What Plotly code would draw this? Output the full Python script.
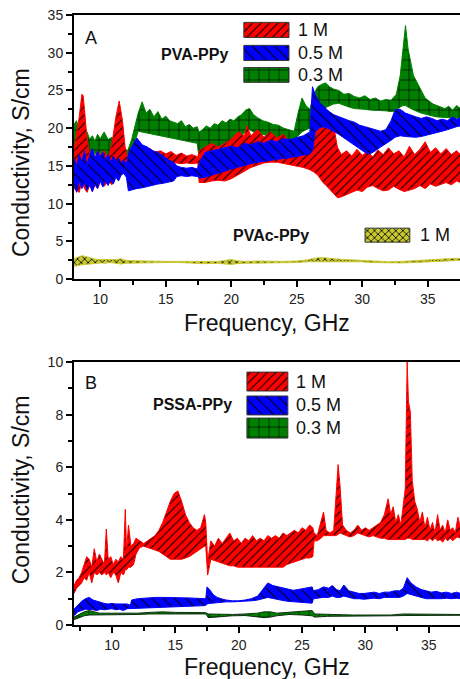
import plotly.graph_objects as go

# ---------------- Panel A : PVA-PPy / PVAc-PPy (S/cm vs GHz) ----------------
A_FREQ_1M = [8.0, 8.2, 8.4, 8.6, 8.7, 8.8, 9.0, 9.2, 9.4, 9.6,
             9.8, 10.0, 10.3, 10.6, 10.9, 11.2, 11.45, 11.7, 11.9, 12.1,
             12.4, 12.7, 13.0, 13.4, 13.8, 14.2, 14.6, 15.0, 15.4, 15.8,
             16.2, 16.6, 17.0, 17.45, 17.55, 18.0, 18.5, 19.0, 19.5, 20.0,
             20.5, 21.0, 21.2, 21.5, 22.0, 22.5, 23.0, 23.5, 24.0, 24.5,
             25.0, 25.5, 26.0, 26.3, 26.6, 27.0, 27.3, 27.6, 27.9, 28.1,
             28.4, 28.8, 29.2, 29.6, 30.0, 30.4, 30.8, 31.2, 31.6, 32.0,
             32.4, 32.8, 33.2, 33.6, 34.0, 34.4, 34.8, 35.2, 35.6, 36.0,
             36.4, 36.8, 37.2, 37.5]
A_HI_1M = [17.0, 19.0, 21.5, 24.5, 24.3, 22.5, 18.5, 16.5, 17.0, 16.0,
           17.0, 16.5, 17.0, 16.0, 18.0, 21.5, 23.6, 21.0, 17.5, 16.0,
           17.0, 16.8, 17.2, 16.8, 17.3, 16.8, 17.0, 16.6, 16.9, 16.4,
           16.7, 16.3, 16.5, 16.2, 17.0, 17.5, 18.0, 17.5, 18.0, 18.5,
           19.5, 19.0, 20.3, 19.0, 19.8, 18.8, 19.5, 18.7, 19.2, 18.0,
           17.5, 17.0, 17.5, 19.0, 20.5, 20.8, 21.5, 20.5, 19.5, 17.5,
           16.5, 17.0, 16.3, 17.2, 16.4, 16.9, 16.2, 17.1, 16.5, 17.4,
           16.6, 17.0, 16.2, 17.6, 16.5, 17.2, 18.2, 16.8, 17.4, 16.6,
           17.3, 16.5, 17.0, 16.5]
A_LO_1M = [12.0, 11.8, 11.5, 13.0, 12.5, 12.0, 11.5, 12.5, 11.6, 12.5,
           12.0, 13.0, 12.3, 13.0, 12.5, 14.0, 15.0, 15.5, 15.0, 15.0,
           15.0, 15.0, 15.2, 15.2, 15.3, 15.3, 15.3, 15.4, 15.4, 15.4,
           15.3, 15.4, 15.3, 15.4, 12.8, 12.8, 13.0, 13.1, 13.0, 13.3,
           13.8, 14.3, 14.5, 14.8, 15.1, 15.4, 15.5, 15.5, 15.4, 15.2,
           15.0, 14.8, 14.5, 14.2, 13.8, 12.8, 12.3, 11.8, 11.2, 10.8,
           10.9, 11.2, 11.5, 11.8, 11.6, 12.2, 12.4, 12.0, 11.7, 11.8,
           12.3, 11.9, 11.6, 11.8, 12.0, 12.4, 12.0, 12.6, 12.3, 12.6,
           12.8, 12.5, 13.0, 12.8]

A_FREQ_05M = [8.0, 8.2, 8.4, 8.6, 8.8, 9.0, 9.2, 9.4, 9.6, 9.8,
              10.0, 10.2, 10.4, 10.6, 10.8, 11.0, 11.2, 11.4, 11.6, 11.8,
              12.0, 12.15, 12.4, 12.8, 13.2, 13.6, 14.0, 14.4, 14.8, 15.2,
              15.6, 15.85, 16.2, 16.6, 17.0, 17.4, 17.6, 18.0, 18.5, 19.0,
              19.5, 20.0, 20.5, 21.0, 21.5, 22.0, 22.5, 23.0, 23.5, 24.0,
              24.5, 25.0, 25.5, 26.0, 26.2, 26.4, 26.7, 27.0, 27.4, 27.8,
              28.2, 28.6, 29.0, 29.4, 29.8, 30.2, 30.6, 31.0, 31.4, 31.8,
              32.2, 32.5, 32.9, 33.3, 33.7, 34.1, 34.5, 34.9, 35.3, 35.7,
              36.1, 36.5, 36.9, 37.2, 37.5]
A_HI_05M = [16.0, 15.0, 16.5, 15.5, 17.0, 15.0, 16.5, 17.3, 16.0, 17.0,
            16.2, 16.8, 15.8, 16.5, 15.5, 16.3, 15.6, 16.0, 15.4, 15.8,
            15.2, 16.5, 17.5, 18.7, 17.8, 17.5, 17.0, 16.8, 16.3, 15.8,
            15.5, 15.0, 14.8, 14.7, 14.8, 14.6, 15.5, 16.8, 17.0, 17.2,
            17.3, 17.6, 17.4, 18.0, 17.8, 18.2, 18.0, 18.4, 18.2, 18.6,
            18.5, 18.8, 19.0, 19.5, 25.5, 24.5, 23.5, 23.0, 22.3, 21.8,
            21.5, 21.2, 21.0, 20.8, 20.4, 20.2, 20.0, 19.8, 19.6, 19.8,
            21.0, 22.4, 22.5, 22.0, 21.7, 21.5, 21.3, 21.5, 21.3, 21.0,
            21.2, 21.0, 21.5, 21.2, 21.4]
A_LO_05M = [12.5, 11.5, 13.0, 12.0, 12.8, 11.8, 12.5, 11.6, 12.6, 12.0,
            13.0, 12.2, 13.0, 12.4, 13.2, 12.6, 13.5, 13.0, 13.8, 14.0,
            13.5, 11.7, 11.8, 12.0, 12.1, 12.3, 12.4, 12.6, 12.7, 12.8,
            13.0, 13.6, 13.7, 13.6, 13.7, 13.6, 13.4, 13.5, 13.8, 14.0,
            14.3, 14.6, 14.8, 15.1, 15.3, 15.5, 15.6, 15.8, 15.9, 16.0,
            16.1, 16.2, 16.4, 16.6, 17.0, 19.5, 20.0, 20.2, 20.0, 19.6,
            19.2, 18.8, 18.2, 17.7, 17.3, 16.8, 16.6, 17.0, 17.5, 18.0,
            18.4, 18.8, 19.0, 18.9, 18.8, 18.8, 18.9, 19.0, 19.2, 19.4,
            19.6, 19.8, 20.0, 20.2, 20.3]

A_FREQ_03M = [8.0, 8.2, 8.4, 8.6, 8.8, 9.0, 9.2, 9.4, 9.6, 9.8,
              10.0, 10.3, 10.6, 10.9, 11.2, 11.5, 11.8, 12.1, 12.4, 12.7,
              12.9, 13.2, 13.5, 13.8, 14.1, 14.4, 14.7, 15.0, 15.3, 15.6,
              15.9, 16.2, 16.5, 16.8, 17.1, 17.4, 17.55, 17.8, 18.1, 18.4,
              18.7, 19.0, 19.3, 19.6, 19.9, 20.2, 20.5, 20.8, 21.1, 21.4,
              21.7, 22.0, 22.4, 22.8, 23.2, 23.6, 24.0, 24.4, 24.8, 25.1,
              25.4, 25.7, 26.0, 26.3, 26.6, 26.9, 27.2, 27.5, 27.8, 28.2,
              28.6, 29.0, 29.4, 29.8, 30.2, 30.6, 31.0, 31.4, 31.8, 32.2,
              32.6, 32.9, 33.1, 33.3, 33.5, 33.7, 33.9, 34.2, 34.5, 34.8,
              35.1, 35.4, 35.7, 36.0, 36.3, 36.6, 36.9, 37.2, 37.5]
A_HI_03M = [20.5, 21.0, 19.5, 20.0, 19.0, 19.5, 18.5, 19.0, 18.3, 19.2,
            18.6, 19.5, 18.5, 18.8, 18.2, 18.5, 17.5, 17.0, 18.5, 20.5,
            22.0, 23.5, 22.0, 22.5, 21.5, 22.2, 21.2, 21.6, 21.0, 20.8,
            20.6, 21.0, 20.2, 20.5, 20.0, 20.2, 19.5, 19.8, 20.3, 20.0,
            20.6, 20.4, 21.0, 20.7, 21.2, 21.0, 21.5, 21.8, 22.4, 22.6,
            21.8, 21.4, 21.0, 20.8, 20.5, 20.4, 20.0, 19.8, 19.6, 22.0,
            24.0, 23.0, 22.5, 24.5, 25.5, 25.8, 26.0, 25.5, 25.2, 25.0,
            24.5, 24.6, 24.2, 24.0, 24.3, 23.8, 24.0, 23.6, 23.8, 23.7,
            24.5, 27.0, 30.0, 33.6, 30.5, 28.5, 27.0, 26.0, 25.0, 24.0,
            23.6, 23.2, 23.0, 22.8, 22.6, 22.9, 22.4, 23.0, 22.6]
A_LO_03M = [15.5, 17.0, 16.5, 17.5, 16.8, 17.2, 16.4, 16.9, 16.5, 17.0,
            16.6, 16.8, 16.2, 16.5, 16.0, 15.5, 14.0, 15.5, 16.5, 18.5,
            19.6, 19.4, 19.3, 19.2, 19.1, 19.0, 18.9, 18.8, 18.7, 18.6,
            18.5, 18.4, 18.3, 18.2, 18.1, 18.0, 16.0, 16.5, 16.8, 17.0,
            17.2, 17.3, 17.5, 17.7, 17.9, 18.2, 18.5, 19.0, 19.6, 19.8,
            19.5, 19.3, 19.2, 19.0, 18.9, 18.8, 18.6, 18.4, 18.2, 19.0,
            19.5, 19.8, 20.0, 21.0, 22.0, 22.5, 22.8, 23.0, 23.2, 23.3,
            23.0, 22.8, 22.6, 22.5, 22.5, 22.4, 22.4, 22.3, 22.3, 22.2,
            22.3, 22.8, 23.0, 23.0, 22.8, 22.6, 22.4, 22.2, 22.0, 21.8,
            21.7, 21.6, 21.5, 21.5, 21.4, 21.4, 21.3, 21.3, 21.4]

A_FREQ_PVAC = [8.0, 8.3, 8.6, 8.9, 9.2, 9.5, 9.8, 10.1, 10.4, 10.7,
               11.0, 11.3, 11.6, 11.9, 12.3, 13.0, 14.0, 15.0, 16.0, 17.0,
               18.0, 19.0, 19.6, 20.0, 20.4, 21.0, 22.0, 23.0, 24.0, 25.0,
               25.8, 26.3, 26.8, 27.3, 27.8, 28.5, 29.3, 30.0, 30.5, 31.0,
               32.0, 33.0, 34.0, 34.5, 35.0, 35.5, 36.0, 36.5, 37.0, 37.5]
A_HI_PVAC = [2.7, 2.9, 3.1, 3.0, 2.8, 2.7, 2.6, 2.6, 2.5, 2.6,
             2.5, 2.6, 2.7, 2.5, 2.45, 2.4, 2.4, 2.35, 2.35, 2.3,
             2.35, 2.35, 2.5, 2.6, 2.45, 2.35, 2.4, 2.35, 2.35, 2.4,
             2.55, 2.75, 2.85, 2.8, 2.7, 2.6, 2.55, 2.5, 2.45, 2.4,
             2.3, 2.35, 2.45, 2.55, 2.6, 2.65, 2.7, 2.7, 2.75, 2.75]
A_LO_PVAC = [1.7, 1.8, 1.9, 2.0, 2.0, 2.1, 2.1, 2.15, 2.1, 2.2,
             2.15, 2.1, 2.0, 2.1, 2.2, 2.2, 2.2, 2.2, 2.2, 2.15,
             2.05, 2.1, 2.0, 1.95, 2.05, 2.1, 2.15, 2.15, 2.2, 2.2,
             2.3, 2.35, 2.35, 2.35, 2.3, 2.3, 2.3, 2.3, 2.2, 2.2,
             2.15, 2.15, 2.2, 2.25, 2.25, 2.3, 2.35, 2.4, 2.45, 2.5]

# ---------------- Panel B : PSSA-PPy ----------------
B_FREQ_1M = [7.0, 7.2, 7.4, 7.6, 7.8, 8.0, 8.2, 8.4, 8.6, 8.8,
             9.0, 9.2, 9.4, 9.55, 9.7, 9.9, 10.1, 10.3, 10.5, 10.7,
             10.9, 11.05, 11.15, 11.3, 11.5, 11.7, 11.9, 12.2, 12.5, 12.8,
             13.1, 13.4, 13.7, 14.0, 14.3, 14.6, 14.9, 15.2, 15.5, 15.8,
             16.1, 16.4, 16.7, 17.0, 17.3, 17.4, 17.55, 17.8, 18.1, 18.4,
             18.7, 19.0, 19.3, 19.6, 19.9, 20.2, 20.5, 20.8, 21.1, 21.4,
             21.7, 22.0, 22.3, 22.6, 22.9, 23.2, 23.5, 23.8, 24.1, 24.4,
             24.7, 25.0, 25.3, 25.6, 25.85, 25.95, 26.2, 26.5, 26.7, 26.9,
             27.2, 27.5, 27.7, 27.85, 28.0, 28.2, 28.5, 28.8, 29.1, 29.4,
             29.7, 30.0, 30.3, 30.6, 30.9, 31.2, 31.5, 31.8, 32.0, 32.2,
             32.4, 32.6, 32.8, 33.0, 33.15, 33.3, 33.4, 33.55, 33.7, 33.9,
             34.1, 34.3, 34.5, 34.7, 34.9, 35.1, 35.3, 35.5, 35.7, 35.9,
             36.1, 36.3, 36.5, 36.7, 36.9, 37.1, 37.3, 37.5]
B_HI_1M = [1.5, 1.7, 1.8, 2.0, 2.3, 2.6, 2.5, 2.2, 2.9, 2.4,
           2.7, 2.5, 2.3, 3.65, 2.5, 2.6, 2.3, 2.5, 2.4, 2.6,
           2.5, 4.4, 2.8, 3.8, 3.0, 3.1, 3.3, 3.2, 3.1, 3.2,
           3.3, 3.4, 3.6, 3.9, 4.3, 4.7, 5.0, 5.1, 4.7, 4.2,
           3.9, 3.7, 3.6, 3.7, 4.2, 3.9, 2.4, 3.2, 3.0, 3.3,
           3.1, 3.3, 3.5, 3.2, 3.3, 3.1, 3.3, 3.2, 3.4, 3.2,
           3.3, 3.2, 3.4, 3.3, 3.4, 3.3, 3.5, 3.4, 3.5, 3.6,
           3.5, 3.7, 3.6, 3.8, 3.7, 3.5, 3.4, 4.0, 4.3, 3.6,
           3.5, 3.6, 5.0, 6.1, 5.3, 3.8, 3.6, 3.5, 3.6, 3.8,
           3.6, 3.7, 3.6, 3.7, 3.8, 3.9, 4.2, 4.8, 4.2, 4.5,
           3.9, 4.2, 3.8, 4.7, 5.2, 10.0, 8.5, 8.1, 5.5, 4.7,
           4.4, 3.9, 4.3, 3.7, 4.1, 3.6, 3.9, 3.5, 4.2, 3.6,
           3.8, 3.5, 4.0, 3.6, 3.7, 3.5, 4.1, 3.7]
B_LO_1M = [1.2, 1.4, 1.5, 1.6, 1.8, 1.7, 2.0, 1.6, 2.0, 1.9,
           2.0, 1.9, 2.0, 1.9, 2.0, 1.8, 2.0, 1.9, 1.6, 2.0,
           1.9, 2.1, 2.1, 2.2, 2.2, 2.3, 2.7, 2.95, 3.0, 2.95,
           2.9, 2.85, 2.8, 2.7, 2.6, 2.5, 2.5, 2.5, 2.5, 2.55,
           2.6, 2.7, 2.8, 2.9, 3.0, 3.0, 1.9, 2.5, 2.45, 2.4,
           2.35, 2.3, 2.25, 2.25, 2.2, 2.2, 2.2, 2.2, 2.2, 2.2,
           2.2, 2.2, 2.2, 2.2, 2.2, 2.2, 2.2, 2.3, 2.35, 2.4,
           2.45, 2.5, 2.55, 2.55, 2.6, 3.2, 3.2, 3.3, 3.4, 3.4,
           3.4, 3.4, 3.4, 3.45, 3.5, 3.45, 3.4, 3.35, 3.4, 3.5,
           3.45, 3.4, 3.35, 3.4, 3.35, 3.3, 3.3, 3.25, 3.25, 3.25,
           3.25, 3.25, 3.25, 3.25, 3.25, 3.3, 3.3, 3.3, 3.25, 3.25,
           3.25, 3.25, 3.25, 3.25, 3.2, 3.3, 3.2, 3.3, 3.2, 3.25,
           3.15, 3.3, 3.2, 3.3, 3.2, 3.3, 3.35, 3.3]

B_FREQ_05M = [7.0, 7.3, 7.6, 7.9, 8.2, 8.5, 8.8, 9.1, 9.4, 9.7,
              10.0, 10.3, 10.6, 10.9, 11.2, 11.45, 11.55, 12.0, 12.5, 13.0,
              13.5, 14.0, 14.5, 15.0, 15.5, 16.0, 16.5, 17.0, 17.4, 17.5,
              17.7, 18.0, 18.3, 18.6, 19.0, 19.5, 20.0, 20.5, 21.0, 21.5,
              21.9, 22.3, 22.7, 23.1, 23.5, 23.9, 24.3, 24.7, 25.1, 25.5,
              25.8, 25.9, 26.3, 26.7, 27.1, 27.4, 27.7, 28.0, 28.3, 28.7,
              29.1, 29.5, 29.9, 30.3, 30.7, 31.1, 31.5, 31.9, 32.3, 32.7,
              33.0, 33.3, 33.6, 34.0, 34.4, 34.8, 35.2, 35.6, 36.0, 36.4,
              36.8, 37.2, 37.5]
B_HI_05M = [0.6, 0.75, 0.9, 1.0, 1.05, 0.95, 0.9, 0.85, 0.82, 0.8,
            0.82, 0.8, 0.8, 0.78, 0.8, 0.75, 0.95, 1.0, 1.02, 1.04,
            1.05, 1.05, 1.05, 1.04, 1.03, 1.03, 1.02, 1.02, 1.0, 1.45,
            1.35, 1.15, 1.05, 1.0, 0.95, 0.92, 0.92, 0.95, 1.0, 1.1,
            1.35, 1.6, 1.5, 1.45, 1.4, 1.35, 1.32, 1.35, 1.38, 1.4,
            1.45, 1.3, 1.35, 1.45, 1.4, 1.5, 1.35, 1.3, 1.52, 1.3,
            1.25, 1.2, 1.2, 1.22, 1.25, 1.2, 1.25, 1.25, 1.3, 1.3,
            1.4, 1.8, 1.6, 1.45, 1.35, 1.3, 1.25, 1.28, 1.22, 1.25,
            1.2, 1.25, 1.2]
B_LO_05M = [0.35, 0.5, 0.55, 0.6, 0.6, 0.58, 0.55, 0.6, 0.58, 0.6,
            0.62, 0.58, 0.6, 0.55, 0.62, 0.6, 0.6, 0.62, 0.64, 0.65,
            0.66, 0.67, 0.68, 0.69, 0.7, 0.71, 0.72, 0.73, 0.74, 0.8,
            0.82, 0.85, 0.86, 0.87, 0.88, 0.88, 0.88, 0.9, 0.92, 0.95,
            1.0, 1.05, 1.0, 0.97, 0.93, 0.9, 0.88, 0.86, 0.85, 0.84,
            0.83, 1.0, 1.02, 1.05, 1.05, 1.1, 1.05, 1.05, 1.1, 1.05,
            1.0, 1.0, 0.98, 1.0, 1.02, 1.0, 1.05, 1.05, 1.05, 1.05,
            1.1, 1.2, 1.15, 1.1, 1.05, 1.0, 1.0, 1.0, 1.0, 1.02,
            1.0, 1.02, 1.0]

B_FREQ_03M = [7.0, 7.4, 7.8, 8.2, 8.6, 9.0, 10.0, 11.0, 12.0, 13.0,
              14.0, 15.0, 16.0, 17.0, 17.4, 17.6, 18.5, 19.5, 20.5, 21.5,
              22.0, 22.5, 23.0, 24.0, 25.0, 25.8, 26.0, 27.0, 28.0, 29.0,
              30.0, 31.0, 32.0, 33.0, 34.0, 35.0, 36.0, 37.0, 37.5]
B_HI_03M = [0.3, 0.4, 0.5, 0.55, 0.5, 0.45, 0.45, 0.45, 0.45, 0.48,
            0.5, 0.48, 0.47, 0.47, 0.47, 0.42, 0.4, 0.4, 0.42, 0.45,
            0.5, 0.5, 0.45, 0.48, 0.5, 0.55, 0.42, 0.4, 0.4, 0.38,
            0.38, 0.38, 0.38, 0.42, 0.42, 0.4, 0.4, 0.4, 0.4]
B_LO_03M = [0.2, 0.28, 0.35, 0.38, 0.38, 0.38, 0.4, 0.4, 0.4, 0.42,
            0.43, 0.42, 0.42, 0.42, 0.42, 0.28, 0.32, 0.35, 0.36, 0.3,
            0.28, 0.3, 0.35, 0.4, 0.38, 0.35, 0.3, 0.33, 0.35, 0.35,
            0.34, 0.35, 0.35, 0.36, 0.38, 0.37, 0.37, 0.37, 0.37]

LEGEND_LABELS = ["1 M", "0.5 M", "0.3 M"]

for a, b, c in [(A_FREQ_1M, A_HI_1M, A_LO_1M), (A_FREQ_05M, A_HI_05M, A_LO_05M),
                (A_FREQ_03M, A_HI_03M, A_LO_03M), (A_FREQ_PVAC, A_HI_PVAC, A_LO_PVAC),
                (B_FREQ_1M, B_HI_1M, B_LO_1M), (B_FREQ_05M, B_HI_05M, B_LO_05M),
                (B_FREQ_03M, B_HI_03M, B_LO_03M)]:
    assert len(a) == len(b) == len(c), (len(a), len(b), len(c))

# ---------------- styles ----------------
RED, BLUE, GREEN, YELLOW = "#ff0000", "#0000ff", "#008000", "#c8c832"
PAT = {
    "red": dict(shape="/", size=6, solidity=0.18),
    "blue": dict(shape="\\", size=8, solidity=0.13),
    "green": dict(shape="+", size=10, solidity=0.12),
    "yellow": dict(shape="x", size=5, solidity=0.3),
}
FONT = "Arial, Liberation Sans, sans-serif"


def band(x, hi, lo, color, pat, xa, ya, line_color=None):
    return go.Scatter(
        x=list(x) + list(x)[::-1], y=list(hi) + list(lo)[::-1],
        mode="lines", fill="toself", fillcolor=color,
        fillpattern=dict(fgcolor="black", bgcolor=color, fillmode="replace", **pat),
        line=dict(color=line_color or color, width=1),
        xaxis=xa, yaxis=ya, hoverinfo="skip", showlegend=False)


def swatch(x0, x1, y0, y1, color, pat, xa, ya):
    return go.Scatter(
        x=[x0, x1, x1, x0, x0], y=[y0, y0, y1, y1, y0],
        mode="lines", fill="toself", fillcolor=color,
        fillpattern=dict(fgcolor="black", bgcolor=color, fillmode="replace", **pat),
        line=dict(color="#333", width=1),
        xaxis=xa, yaxis=ya, hoverinfo="skip", showlegend=False)


fig = go.Figure()
# Panel A bands
fig.add_trace(band(A_FREQ_03M, A_HI_03M, A_LO_03M, GREEN, PAT["green"], "x", "y"))
fig.add_trace(band(A_FREQ_1M, A_HI_1M, A_LO_1M, RED, PAT["red"], "x", "y"))
fig.add_trace(band(A_FREQ_05M, A_HI_05M, A_LO_05M, BLUE, PAT["blue"], "x", "y"))
fig.add_trace(band(A_FREQ_PVAC, A_HI_PVAC, A_LO_PVAC, YELLOW, PAT["yellow"], "x", "y"))
# Panel B bands
fig.add_trace(band(B_FREQ_1M, B_HI_1M, B_LO_1M, RED, PAT["red"], "x2", "y2"))
fig.add_trace(band(B_FREQ_05M, B_HI_05M, B_LO_05M, BLUE, PAT["blue"], "x2", "y2"))
fig.add_trace(band(B_FREQ_03M, B_HI_03M, B_LO_03M, GREEN, PAT["green"], "x2", "y2", line_color="#103010"))

# legend swatches (layout positions in panel-fraction units)
A_ROWS = [(0.915, 0.972), (0.828, 0.885), (0.745, 0.801)]
B_ROWS = [(0.890, 0.962), (0.799, 0.871), (0.711, 0.787)]
cols = [(RED, PAT["red"]), (BLUE, PAT["blue"]), (GREEN, PAT["green"])]
for (y0, y1), (c, p) in zip(A_ROWS, cols):
    fig.add_trace(swatch(0.440, 0.557, y0, y1, c, p, "x3", "y3"))
fig.add_trace(swatch(0.754, 0.870, 0.140, 0.193, YELLOW, PAT["yellow"], "x3", "y3"))
for (y0, y1), (c, p) in zip(B_ROWS, cols):
    fig.add_trace(swatch(0.448, 0.554, y0, y1, c, p, "x4", "y4"))

axis_common = dict(showline=True, linewidth=2, linecolor="black", ticks="outside",
                   ticklen=6, tickwidth=1.5, tickcolor="black", showgrid=False,
                   zeroline=False, tickfont=dict(size=14, color="#222", family=FONT))

fig.update_layout(
    width=460, height=679, margin=dict(l=74, r=0, t=15, b=54),
    plot_bgcolor="white", paper_bgcolor="white", showlegend=False,
    font=dict(family=FONT, color="#111"),
    xaxis=dict(domain=[0, 1], anchor="y", range=[8, 37.46], dtick=5, tick0=0, mirror=True,
               minor=dict(ticks="outside", ticklen=4, dtick=2.5, tick0=0, tickwidth=1.5, tickcolor="black"),
               **axis_common),
    yaxis=dict(domain=[0.567, 1], anchor="x", range=[0, 35], dtick=5, tick0=0,
               minor=dict(ticks="outside", ticklen=4, dtick=2.5, tick0=0, tickwidth=1.5, tickcolor="black"),
               **axis_common),
    xaxis2=dict(domain=[0, 1], anchor="y2", range=[7, 37.47], dtick=5, tick0=0, mirror=True,
                minor=dict(ticks="outside", ticklen=4, dtick=2.5, tick0=0, tickwidth=1.5, tickcolor="black"),
                **axis_common),
    yaxis2=dict(domain=[0, 0.431], anchor="x2", range=[0, 10], dtick=2, tick0=0,
                minor=dict(ticks="outside", ticklen=4, dtick=1, tick0=0, tickwidth=1.5, tickcolor="black"),
                **axis_common),
    xaxis3=dict(overlaying="x", anchor="y3", range=[0, 1], visible=False, fixedrange=True),
    yaxis3=dict(overlaying="y", anchor="x3", range=[0, 1], visible=False, fixedrange=True),
    xaxis4=dict(overlaying="x2", anchor="y4", range=[0, 1], visible=False, fixedrange=True),
    yaxis4=dict(overlaying="y2", anchor="x4", range=[0, 1], visible=False, fixedrange=True),
)

ann = []


def txt(text, x, y, xr, yr, size, bold=False, xanchor="center", angle=0):
    ann.append(dict(text=("<b>%s</b>" % text) if bold else text, x=x, y=y,
                    xref=xr, yref=yr, xanchor=xanchor, yanchor="middle",
                    showarrow=False, textangle=angle,
                    font=dict(size=size, color="#111", family=FONT)))


# Panel A texts
txt("A", 0.044, 0.913, "x domain", "y domain", 18)
txt("PVA-PPy", 0.313, 0.852, "x domain", "y domain", 16, bold=True)
for lab, (y0, y1) in zip(LEGEND_LABELS, A_ROWS):
    txt(lab, 0.575, (y0 + y1) / 2, "x domain", "y domain", 18, xanchor="left")
txt("PVAc-PPy", 0.510, 0.167, "x domain", "y domain", 16, bold=True)
txt("1 M", 0.892, 0.166, "x domain", "y domain", 18, xanchor="left")
txt("Frequency, GHz", 0.5, -0.167, "x domain", "y domain", 23)
txt("Conductivity, S/cm", -0.137, 0.44, "x domain", "y domain", 23, angle=-90)
# Panel B texts
txt("B", 0.044, 0.920, "x2 domain", "y2 domain", 18)
txt("PSSA-PPy", 0.306, 0.840, "x2 domain", "y2 domain", 16, bold=True)
for lab, (y0, y1) in zip(LEGEND_LABELS, B_ROWS):
    txt(lab, 0.570, (y0 + y1) / 2, "x2 domain", "y2 domain", 18, xanchor="left")
txt("Frequency, GHz", 0.5, -0.160, "x2 domain", "y2 domain", 23)
txt("Conductivity, S/cm", -0.137, 0.513, "x2 domain", "y2 domain", 23, angle=-90)

fig.update_layout(annotations=ann)
fig.write_html("out.html")
